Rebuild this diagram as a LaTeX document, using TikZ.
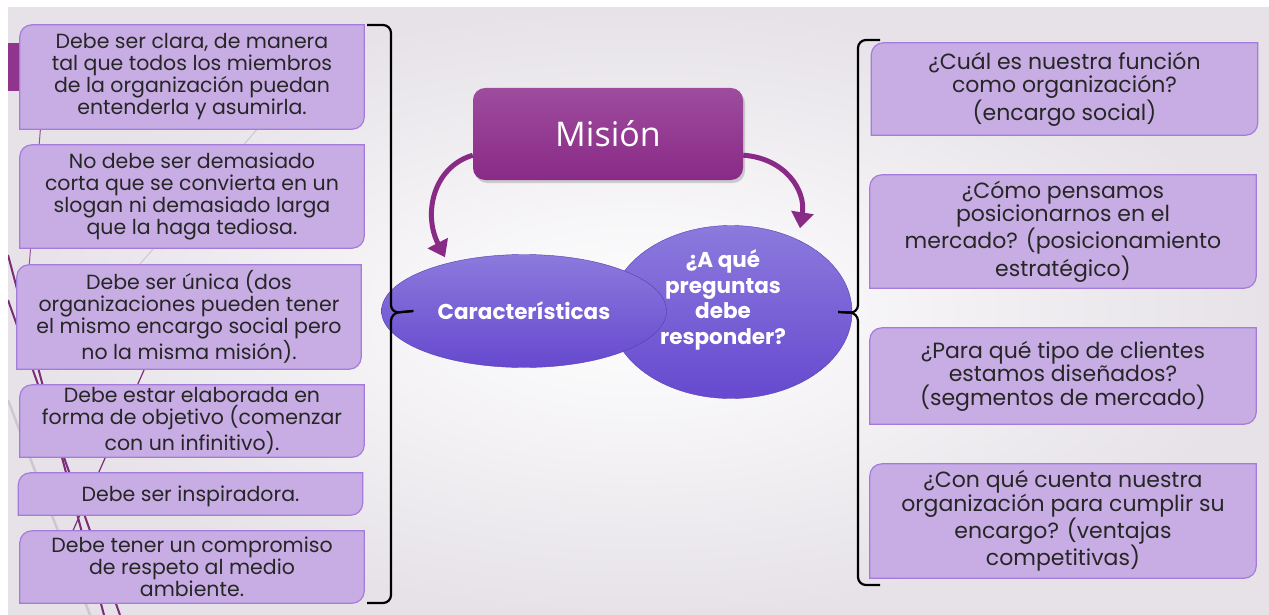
\documentclass[tikz,border=0pt]{standalone}
\usepackage{fontspec}
\setmainfont{Poppins}
\newfontfamily\misionfont{Open Sans}
\usetikzlibrary{shapes.geometric,arrows.meta,shadows,backgrounds}

\definecolor{leaffill}{HTML}{C8ADE4}
\definecolor{leafline}{HTML}{A47BDC}
\definecolor{leaftext}{HTML}{262626}
\definecolor{plum}{HTML}{8A2A87}
\definecolor{plumtop}{HTML}{9D4C9E}
\definecolor{ovaltop}{HTML}{8C7ADD}
\definecolor{ovalbot}{HTML}{6649CF}
\definecolor{slidegray}{HTML}{E6E2E8}
\definecolor{decodark}{HTML}{7B2D79}
\definecolor{decolight}{HTML}{CFC6D2}

\tikzset{
  leaf/.style={minimum width=344pt, inner sep=0pt, text=leaftext, align=center,
    font=\fontsize{20.5}{22}\selectfont, execute at begin node={\rule{0pt}{21pt}}},
  ask/.style={leaf, minimum width=386pt, font=\fontsize{22}{23.5}\selectfont},
  oval/.style={ellipse, inner sep=0pt, top color=ovaltop, bottom color=ovalbot,
    draw=ovalbot!85!black, line width=0.4pt},
  ovaltext/.style={text=white, align=center, font=\bfseries\fontsize{21.5}{25.5}\selectfont},
  mision/.style={rounded corners=12pt, minimum width=270pt, minimum height=92pt,
    top color=plumtop, bottom color=plum, text=white,
    drop shadow={opacity=0.35, shadow xshift=2pt, shadow yshift=-3pt},
    font=\misionfont\fontsize{34}{40}\selectfont},
  curvearrow/.style={plum, line width=5pt, -{Triangle[width=22pt,length=16pt]}},
  brace/.style={black, line width=2.2pt, rounded corners=8pt},
}

% frame with two rounded corners (top left, bottom right)
\newcommand\leafframe[1]{%
  \filldraw[fill=leaffill, draw=leafline, line width=1.2pt]
    (#1.north east) -- ([xshift=12pt]#1.north west)
    arc[start angle=90, end angle=180, radius=12pt] -- (#1.south west)
    -- ([xshift=-12pt]#1.south east)
    arc[start angle=270, end angle=360, radius=12pt] -- cycle;}

\begin{document}
\begin{tikzpicture}[x=1pt,y=-1pt]
  \useasboundingbox (0,0) rectangle (1269,615);

  % characteristics
  \node[leaf, minimum height=104pt] (c1) at (192,77)
    {Debe ser clara, de manera\\tal que todos los miembros\\de la organización puedan\\entenderla y asumirla.};
  \node[leaf, minimum height=103pt] (c2) at (192,196.5)
    {No debe ser demasiado\\corta que se convierta en un\\slogan ni demasiado larga\\que la haga tediosa.};
  \node[leaf, minimum height=104pt] (c3) at (189,317)
    {Debe ser única (dos\\organizaciones pueden tener\\el mismo encargo social pero\\no la misma misión).};
  \node[leaf, minimum height=72pt] (c4) at (192,421)
    {Debe estar elaborada en\\forma de objetivo (comenzar\\con un infinitivo).};
  \node[leaf, minimum height=42pt] (c5) at (190.5,494)
    {Debe ser inspiradora.};
  \node[leaf, minimum height=72pt] (c6) at (192,567)
    {Debe tener un compromiso\\de respeto al medio\\ambiente.};

  % questions
  \node[ask, minimum height=92pt] (p1) at (1064.5,89)
    {¿Cuál es nuestra función\\como organización?\\(encargo social)};
  \node[ask, minimum height=113pt] (p2) at (1063,231.5)
    {¿Cómo pensamos\\posicionarnos en el\\mercado? (posicionamiento\\estratégico)};
  \node[ask, minimum height=96pt] (p3) at (1063,376)
    {¿Para qué tipo de clientes\\estamos diseñados?\\(segmentos de mercado)};
  \node[ask, minimum height=114pt] (p4) at (1063,521)
    {¿Con qué cuenta nuestra\\organización para cumplir su\\encargo? (ventajas\\competitivas)};

  % centre
  \node[mision] (mision) at (608,134) {Misión};
  \node[oval, minimum width=242pt, minimum height=173pt] (ask) at (731,312) {};
  \node[ovaltext] (asktxt) at (723,300) {¿A qué\\preguntas\\debe\\responder?};
  \node[oval, ovaltext, minimum width=285pt, minimum height=113pt] (carac) at (524,311)
    {Características};

  \draw[curvearrow] ([yshift=25pt]mision.south west) .. controls +(-40,12) and +(-22,-43) ..
    ([xshift=-79pt,yshift=-3pt]carac.north);
  \draw[curvearrow] ([yshift=25pt]mision.south east) .. controls +(42,3) and +(6,-38) ..
    ([xshift=69pt,yshift=-3pt]ask.north);

  % braces
  \draw[brace] (367,25) -- (391,25) -- (391,313) -- ([xshift=32pt]carac.west);
  \draw[brace] (367,603) -- (391,603) -- (391,313) -- ([xshift=32pt]carac.west);
  \draw[brace] (880,40) -- (858,40) -- (858,313) -- ([xshift=-14pt]ask.east);
  \draw[brace] (880,585) -- (858,585) -- (858,313) -- ([xshift=-14pt]ask.east);

  \begin{pgfonlayer}{background}
    \shade[inner color=white, outer color=slidegray] (8,8) rectangle (1269,615);
    \begin{scope}
      \clip (8,8) rectangle (1269,615);
      \draw[decodark, line width=2pt] (8,255) -- (104,615);
      \draw[decodark, line width=2pt] (8,300) -- (120,615);
      \draw[decolight, line width=2.5pt] (8,400) -- (90,615);
      \draw[decodark, line width=1.2pt] (175,300) -- (60,560);
      \draw[decodark!80, line width=1pt] (42,110) -- (28,280);
      \draw[decolight, line width=1pt] (300,80) -- (100,310);
    \end{scope}
    \fill[plum!95!white] (8,43) rectangle (20,91);
    \foreach \n in {c1,c2,c3,c4,c5,c6,p1,p2,p3,p4} {\leafframe{\n}}
  \end{pgfonlayer}
\end{tikzpicture}
\end{document}
